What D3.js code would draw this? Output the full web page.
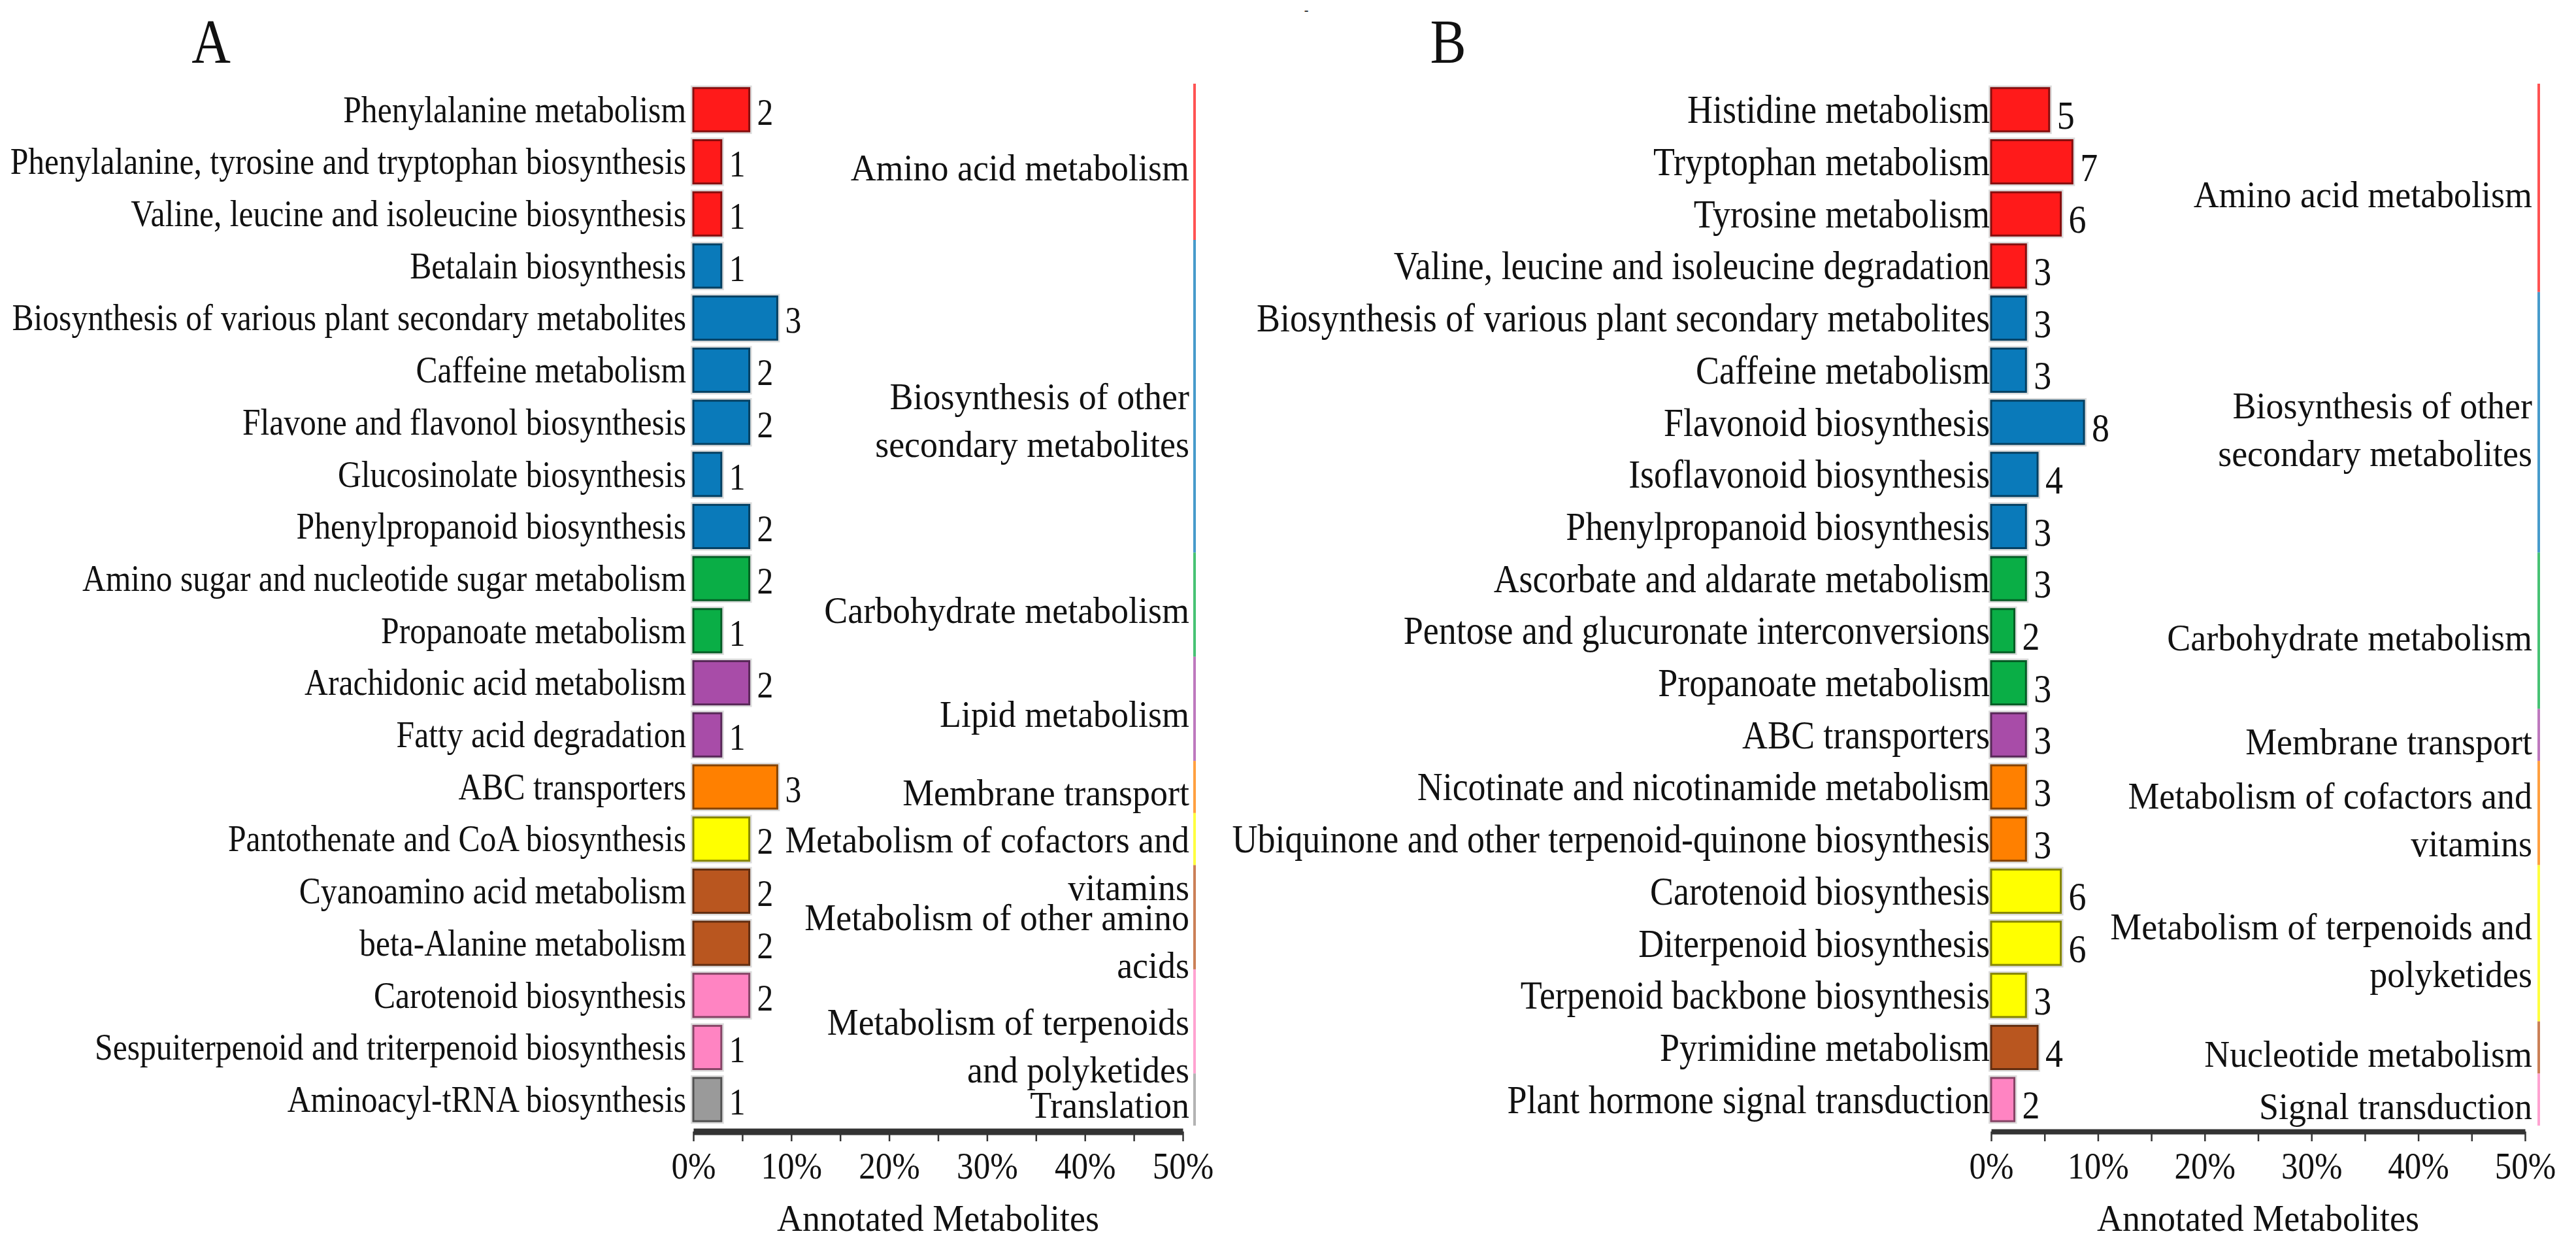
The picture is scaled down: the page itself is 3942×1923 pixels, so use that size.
<!DOCTYPE html>
<html>
<head>
<meta charset="utf-8">
<script src="https://cdn.jsdelivr.net/npm/d3@7"></script>
<style>
  body { margin: 0; background: white; }
  text { font-family: "Liberation Serif", "Times New Roman", serif; fill: #111; }
</style>
</head>
<body>
<div id="container"></div>
<script>
/* CONSTANTS AND GLOBALS */
const width = 3942;
const height = 1923;

/* DATA - panel A */
const pathwaysA = [
  "Phenylalanine metabolism",
  "Phenylalanine, tyrosine and tryptophan biosynthesis",
  "Valine, leucine and isoleucine biosynthesis",
  "Betalain biosynthesis",
  "Biosynthesis of various plant secondary metabolites",
  "Caffeine metabolism",
  "Flavone and flavonol biosynthesis",
  "Glucosinolate biosynthesis",
  "Phenylpropanoid biosynthesis",
  "Amino sugar and nucleotide sugar metabolism",
  "Propanoate metabolism",
  "Arachidonic acid metabolism",
  "Fatty acid degradation",
  "ABC transporters",
  "Pantothenate and CoA biosynthesis",
  "Cyanoamino acid metabolism",
  "beta-Alanine metabolism",
  "Carotenoid biosynthesis",
  "Sespuiterpenoid and triterpenoid biosynthesis",
  "Aminoacyl-tRNA biosynthesis"
];
const countsA = [2, 1, 1, 1, 3, 2, 2, 1, 2, 2, 1, 2, 1, 3, 2, 2, 2, 2, 1, 1];
const totalA = 35;
const classesA = [
  "Amino acid metabolism",
  "Biosynthesis of other\nsecondary metabolites",
  "Carbohydrate metabolism",
  "Lipid metabolism",
  "Membrane transport",
  "Metabolism of cofactors and\nvitamins",
  "Metabolism of other amino\nacids",
  "Metabolism of terpenoids\nand polyketides",
  "Translation"
];
const classRowsA = [3, 6, 2, 2, 1, 1, 2, 2, 1];
const classColorsA = ["#ff1a1a", "#0a7aba", "#0aae46", "#a84ca8", "#ff8000", "#ffff00", "#b9561f", "#ff84c2", "#9a9a9a"];

/* DATA - panel B */
const pathwaysB = [
  "Histidine metabolism",
  "Tryptophan metabolism",
  "Tyrosine metabolism",
  "Valine, leucine and isoleucine degradation",
  "Biosynthesis of various plant secondary metabolites",
  "Caffeine metabolism",
  "Flavonoid biosynthesis",
  "Isoflavonoid biosynthesis",
  "Phenylpropanoid biosynthesis",
  "Ascorbate and aldarate metabolism",
  "Pentose and glucuronate interconversions",
  "Propanoate metabolism",
  "ABC transporters",
  "Nicotinate and nicotinamide metabolism",
  "Ubiquinone and other terpenoid-quinone biosynthesis",
  "Carotenoid biosynthesis",
  "Diterpenoid biosynthesis",
  "Terpenoid backbone biosynthesis",
  "Pyrimidine metabolism",
  "Plant hormone signal transduction"
];
const countsB = [5, 7, 6, 3, 3, 3, 8, 4, 3, 3, 2, 3, 3, 3, 3, 6, 6, 3, 4, 2];
const totalB = 92;
const classesB = [
  "Amino acid metabolism",
  "Biosynthesis of other\nsecondary metabolites",
  "Carbohydrate metabolism",
  "Membrane transport",
  "Metabolism of cofactors and\nvitamins",
  "Metabolism of terpenoids and\npolyketides",
  "Nucleotide metabolism",
  "Signal transduction"
];
const classRowsB = [4, 5, 3, 1, 2, 3, 1, 1];
const classColorsB = ["#ff1a1a", "#0a7aba", "#0aae46", "#a84ca8", "#ff8000", "#ffff00", "#b9561f", "#ff84c2"];

const tickValues = [0, 5, 10, 15, 20, 25, 30, 35, 40, 45, 50];

/* squeeze text horizontally like the original narrow serif */
function condense(sel, k) {
  sel.each(function () {
    const w = this.getComputedTextLength();
    d3.select(this).attr("textLength", w * k).attr("lengthAdjust", "spacingAndGlyphs");
  });
}

const svg = d3.select("#container")
  .append("svg")
  .attr("width", width)
  .attr("height", height)
  .style("background-color", "white");

// tiny mark at the top of the original figure
svg.append("text").attr("x", 1999).attr("y", 22).attr("font-size", 20).attr("text-anchor", "middle").text("-");

function drawPanel(p) {
  const rows = p.pathways.map((name, i) => ({ name, count: p.counts[i], pct: p.counts[i] / p.total * 100 }));

  // expand classes to a colour per row
  const rowColor = [];
  p.classRows.forEach((n, ci) => { for (let k = 0; k < n; k++) rowColor.push(p.colors[ci]); });

  const x = d3.scaleLinear().domain([0, 50]).range([p.x0, p.x1]);
  const y = d3.scaleBand().domain(p.pathways).range([128, 1722]).paddingInner(0.17).paddingOuter(0.085);
  const step = y.step();
  const bw = y.bandwidth();

  const g = svg.append("g");

  // panel letter
  g.append("text")
    .attr("x", p.letterX).attr("y", 96)
    .attr("font-size", 95).attr("text-anchor", "middle")
    .text(p.letter)
    .call(condense, 0.87);

  // light halo behind bars
  g.append("g")
    .selectAll("rect")
    .data(rows)
    .join("rect")
    .attr("x", x(0))
    .attr("y", d => y(d.name))
    .attr("width", d => x(d.pct) - x(0))
    .attr("height", bw)
    .attr("fill", "none")
    .attr("stroke", "#dcdcdc")
    .attr("stroke-width", 8);

  // bars
  g.append("g")
    .selectAll("rect")
    .data(rows)
    .join("rect")
    .attr("x", x(0))
    .attr("y", d => y(d.name))
    .attr("width", d => x(d.pct) - x(0))
    .attr("height", bw)
    .attr("fill", (d, i) => rowColor[i])
    .attr("stroke", (d, i) => d3.color(rowColor[i]).darker(1.8))
    .attr("stroke-width", 3);

  // pathway labels
  g.append("g")
    .attr("font-size", p.labelSize)
    .attr("text-anchor", "end")
    .selectAll("text")
    .data(rows)
    .join("text")
    .attr("x", x(0) - p.labelGap)
    .attr("y", d => y(d.name) + bw / 2 + p.labelSize * 0.33)
    .text(d => d.name)
    .call(condense, 0.87);

  // count labels
  g.append("g")
    .attr("font-size", p.labelSize)
    .selectAll("text")
    .data(rows)
    .join("text")
    .attr("x", d => x(d.pct) + 12)
    .attr("y", d => y(d.name) + bw / 2 + p.labelSize * p.numDy)
    .text(d => d.count)
    .call(condense, 0.87);

  // class brackets and names
  let start = 0;
  p.classes.forEach((cls, ci) => {
    const n = p.classRows[ci];
    const first = p.pathways[start];
    const last = p.pathways[start + n - 1];
    const top = y(first) - (step - bw) / 2;
    const bot = y(last) + bw + (step - bw) / 2;
    const mid = (top + bot) / 2;
    start += n;

    g.append("line")
      .attr("x1", p.lineX).attr("x2", p.lineX)
      .attr("y1", top).attr("y2", bot)
      .attr("stroke", rowColor[start - 1])
      .attr("stroke-opacity", 0.75)
      .attr("stroke-width", 4);

    const lines = cls.split("\n");
    const y0 = p.centerClasses
      ? mid + 30 - (lines.length - 1) * 73 / 2
      : mid + (lines.length > 1 ? 20 : 28);
    g.append("g")
      .attr("font-size", 58)
      .attr("text-anchor", "end")
      .selectAll("text")
      .data(lines)
      .join("text")
      .attr("x", p.classX)
      .attr("y", (d, i) => y0 + i * 73)
      .text(d => d)
      .call(condense, 0.93);
  });

  // x axis
  const axisY = 1731;
  const ax = g.append("g")
    .attr("transform", `translate(0,${axisY})`)
    .call(d3.axisBottom(x).tickValues(tickValues).tickSize(15).tickSizeOuter(0)
      .tickFormat(d => d % 10 === 0 ? d + "%" : ""));
  ax.select(".domain").attr("stroke", "#333").attr("stroke-width", p.axisWidth);
  ax.selectAll(".tick line").attr("stroke", "#333").attr("stroke-width", 2.5);
  ax.selectAll(".tick text")
    .attr("font-size", 58)
    .attr("font-family", "Liberation Serif, Times New Roman, serif")
    .attr("fill", "#111")
    .attr("y", 72).attr("dy", 0)
    .call(condense, 0.88);

  g.append("text")
    .attr("x", (p.x0 + p.x1) / 2)
    .attr("y", 1883)
    .attr("font-size", 58)
    .attr("text-anchor", "middle")
    .text("Annotated Metabolites")
    .call(condense, 0.93);
}

drawPanel({
  letter: "A", letterX: 323,
  pathways: pathwaysA, counts: countsA, total: totalA,
  classes: classesA, classRows: classRowsA, colors: classColorsA,
  x0: 1061, x1: 1810, labelGap: 11, labelSize: 57, numDy: 0.4,
  classX: 1820, lineX: 1828, centerClasses: false, axisWidth: 10
});

drawPanel({
  letter: "B", letterX: 2216,
  pathways: pathwaysB, counts: countsB, total: totalB,
  classes: classesB, classRows: classRowsB, colors: classColorsB,
  x0: 3047, x1: 3864, labelGap: 2, labelSize: 62, numDy: 0.47,
  classX: 3875, lineX: 3885, centerClasses: true, axisWidth: 8
});
</script>
</body>
</html>
